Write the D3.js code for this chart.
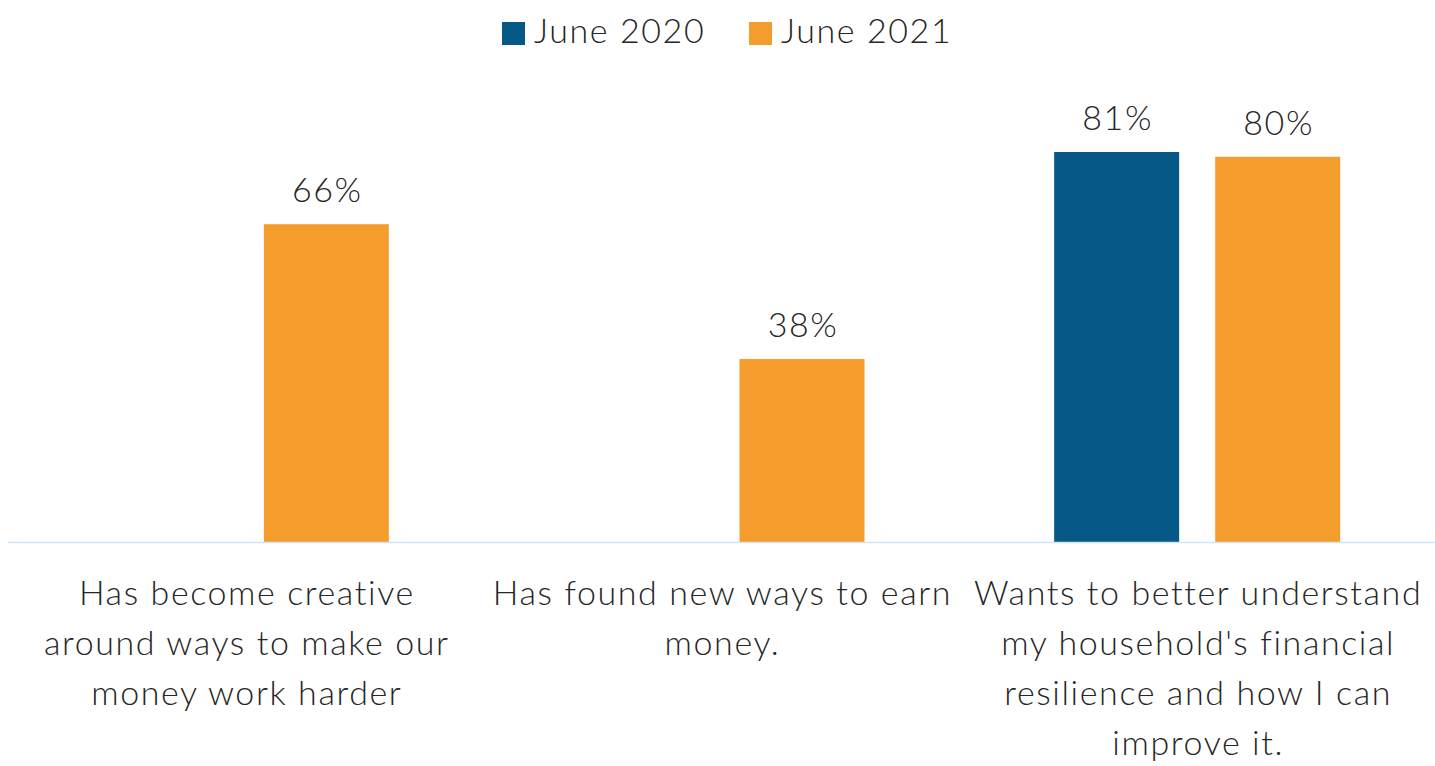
<!DOCTYPE html>
<html>
<head>
<meta charset="utf-8">
<script src="https://cdn.jsdelivr.net/npm/d3@7"></script>
<style>
  body { margin: 0; background: #fff; }
  svg text { font-family: Lato, "Open Sans", sans-serif; fill: #262626; letter-spacing: 1.6px; }
</style>
</head>
<body>
<div id="chart"></div>
<script>
// categories, one entry per line of the wrapped label
var categories = [
    ["Has become creative", "around ways to make our", "money work harder"],
    ["Has found new ways to earn", "money."],
    ["Wants to better understand", "my household's financial", "resilience and how I can", "improve it."]
];
var seriesNames = ["June 2020", "June 2021"];
var june2020 = [null, null, 81];
var june2021 = [66, 38, 80];
var colors = ["#065886", "#f59d2c"];

var width = 1435, height = 766;
var svg = d3.select("#chart").append("svg").attr("width", width).attr("height", height);

var margin = {left: 8, right: 0, top: 60, bottom: 224};
var baseY = height - margin.bottom;

var x0 = d3.scaleBand()
    .domain(d3.range(categories.length))
    .range([margin.left, width - margin.right])
    .paddingInner(0).paddingOuter(0);

var x1 = d3.scaleBand()
    .domain(seriesNames)
    .range([x0.bandwidth() / 2 - 143, x0.bandwidth() / 2 + 143])
    .paddingInner(32 / 143).paddingOuter(0);

var y = d3.scaleLinear().domain([0, 100]).range([baseY, baseY - 481.5]);

var seriesVals = [june2020, june2021];

var rows = [];
categories.forEach(function(c, i) {
    seriesNames.forEach(function(s, j) {
        if (seriesVals[j][i] != null)
            rows.push({cat: i, series: s, idx: j, value: seriesVals[j][i]});
    });
});

var bars = svg.append("g").attr("class", "bars");
bars.selectAll("rect")
    .data(rows)
    .enter().append("rect")
    .attr("x", function(d) { return x0(d.cat) + x1(d.series); })
    .attr("y", function(d) { return y(d.value); })
    .attr("width", x1.bandwidth())
    .attr("height", function(d) { return baseY - y(d.value); })
    .attr("fill", function(d) { return colors[d.idx]; });

bars.selectAll("text")
    .data(rows)
    .enter().append("text")
    .attr("x", function(d) { return x0(d.cat) + x1(d.series) + x1.bandwidth() / 2 + 1; })
    .attr("y", function(d) { return y(d.value) - 22; })
    .attr("text-anchor", "middle")
    .attr("font-size", 34)
    .attr("font-weight", 300)
    .text(function(d) { return d.value + "%"; });

// baseline
svg.append("line")
    .attr("x1", margin.left).attr("x2", width)
    .attr("y1", baseY + 0.5).attr("y2", baseY + 0.5)
    .attr("stroke", "#cde6f7").attr("stroke-width", 1.5);

// category labels
var labels = svg.append("g").attr("class", "labels");
categories.forEach(function(lines, i) {
    var cx = x0(i) + x0.bandwidth() / 2 + 1;
    var t = labels.append("text")
        .attr("text-anchor", "middle")
        .attr("font-size", 34)
        .attr("font-weight", 300)
        .attr("x", cx)
        .attr("y", baseY + 63);
    lines.forEach(function(l, k) {
        t.append("tspan")
            .attr("x", cx)
            .attr("dy", k === 0 ? 0 : 50)
            .text(l);
    });
});

// legend
var legend = svg.append("g").attr("class", "legend");
var legX = [502, 749];
seriesNames.forEach(function(s, j) {
    legend.append("rect")
        .attr("x", legX[j]).attr("y", 22)
        .attr("width", 23).attr("height", 23)
        .attr("fill", colors[j]);
    legend.append("text")
        .attr("x", legX[j] + 32).attr("y", 43)
        .attr("font-size", 34)
        .attr("font-weight", 300)
        .text(s);
});
</script>
</body>
</html>
